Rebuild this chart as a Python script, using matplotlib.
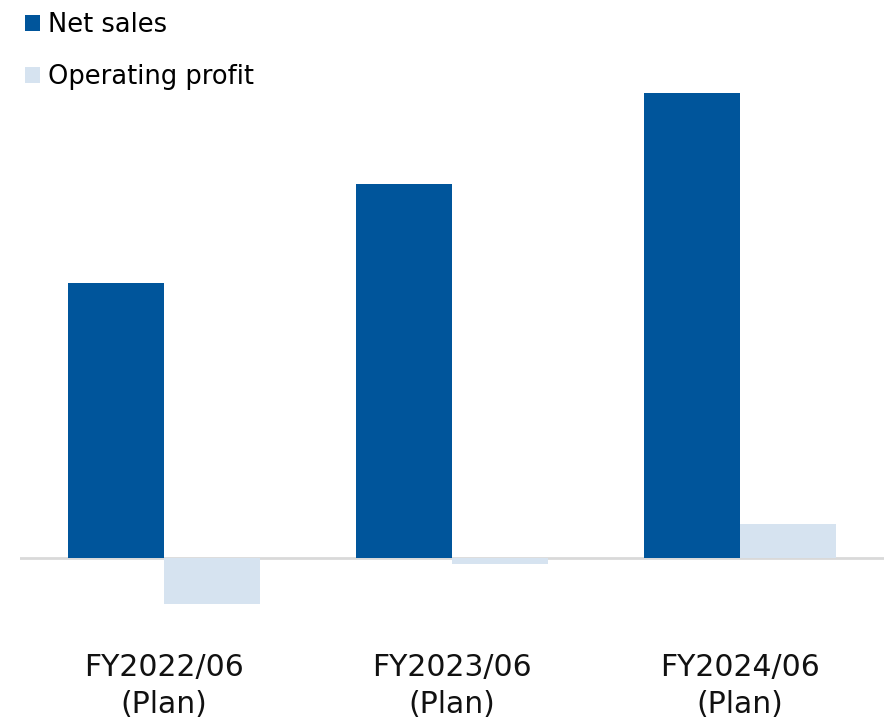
import numpy as np
import matplotlib
matplotlib.use('Agg')
import matplotlib.pyplot as plt

categories = ['FY2022/06\n(Plan)', 'FY2023/06\n(Plan)', 'FY2024/06\n(Plan)']
net_sales = [275, 374, 465]
operating_profit = [-46, -6, 34]

dark_blue = '#00559B'
light_blue = '#D6E3F0'

plt.rcParams['font.family'] = ['DejaVu Sans']

fig = plt.figure(figsize=(8.89, 7.19), dpi=100)
ax = fig.add_axes([20 / 889, 99 / 719, 864 / 889, 540 / 719])

x = np.arange(len(categories))
w = 1 / 3
ax.bar(x - w / 2, net_sales, width=w, color=dark_blue, label='Net sales', zorder=2)
ax.bar(x + w / 2, operating_profit, width=w, color=light_blue, label='Operating profit', zorder=2)

ax.axhline(0, color='#D9D9D9', linewidth=2, zorder=1)
ax.set_xlim(-0.5, 2.5)
ax.set_ylim(-62, 478)

for s in ax.spines.values():
    s.set_visible(False)
ax.set_yticks([])
ax.set_xticks(x)
ax.set_xticklabels(categories, fontsize=21.5, color='#111111', linespacing=1.32)
ax.tick_params(axis='x', length=0, pad=24)

ax.legend(loc='upper left', bbox_to_anchor=(25 / 889, 1 - 12 / 719), bbox_transform=fig.transFigure,
          frameon=False, fontsize=18.5, handlelength=0.58, handleheight=0.58, handletextpad=0.33,
          labelspacing=1.0, borderpad=0, borderaxespad=0)

fig.savefig('out.png', dpi=100)
